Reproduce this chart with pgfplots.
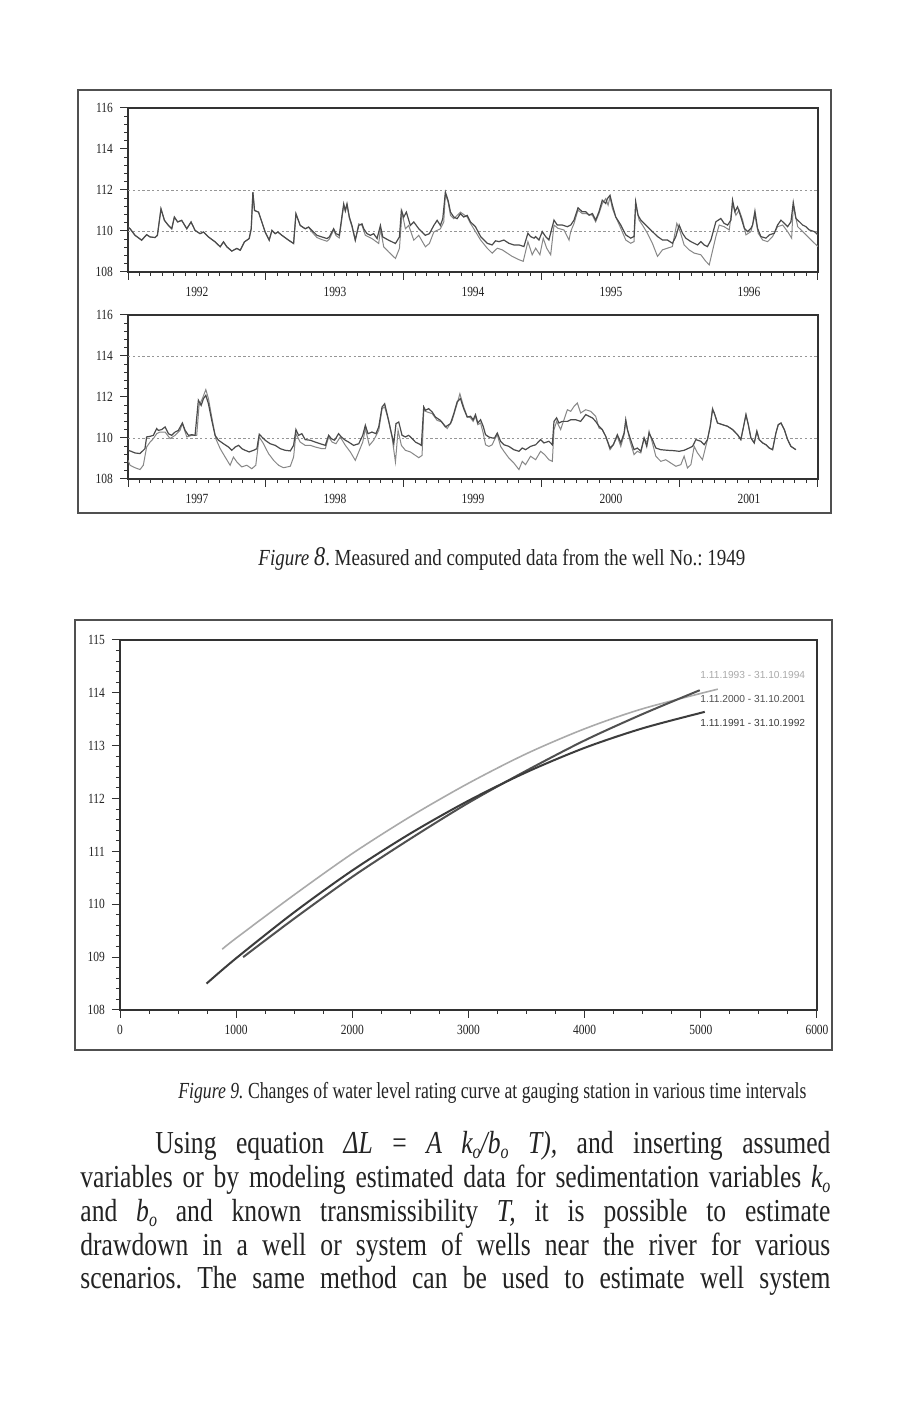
\documentclass[border=0pt]{standalone}
\usepackage{pgfplots}
\pgfplotsset{compat=1.18}
\usepackage{graphicx}
\usepackage{fontspec}
\setmainfont{Liberation Serif}
\newfontfamily\tickfont[FakeStretch=0.82]{Liberation Serif}
\newfontfamily\parafont[FakeStretch=0.80]{Liberation Serif}
\newfontfamily\legfont{Liberation Sans}
\frenchspacing

\definecolor{ink}{RGB}{50,50,50}
\definecolor{txt}{RGB}{35,35,35}
\definecolor{meas}{RGB}{75,75,75}
\definecolor{comp}{RGB}{135,135,135}
\definecolor{framegray}{RGB}{80,80,80}
\definecolor{gridgray}{RGB}{150,150,150}
\definecolor{c93}{RGB}{170,170,170}
\definecolor{c00}{RGB}{80,80,80}
\definecolor{c91}{RGB}{60,60,60}

\newcommand\sub[1]{\raisebox{-0.35ex}{\fontsize{10}{10}\selectfont\itshape #1}}

\pgfplotsset{
  scan axis/.style={
    scale only axis,
    tick align=outside, tick pos=left,
    axis line style={ink, line width=0.6pt},
    tick style={ink, line width=0.5pt},
    major tick length=4pt, minor tick length=2pt,
    tick label style={font=\tickfont\fontsize{7}{8}\selectfont, text=txt},
    /pgf/number format/assume math mode=true,
    /pgf/number format/set thousands separator={},
  },
  well panel/.style={
    scan axis,
    width=345pt, height=82pt,
    xmin=0, xmax=5, ymin=108, ymax=116,
    xtick={0,...,5}, x tick label as interval, minor x tick num=11,
    ytick={108,110,...,116}, minor y tick num=4,
    extra y tick style={grid=major,
      major grid style={gridgray, dash pattern=on 1.2pt off 1.2pt, line width=0.4pt}},
    extra y tick labels={},
  },
}

% well No. 1949, 1992-1996 (x in years from the first tick)
\pgfplotstableread{
t y
0 110.19
0.015 110.11
0.051 109.79
0.099 109.55
0.135 109.82
0.160 109.71
0.196 109.68
0.213 109.79
0.239 111.08
0.264 110.52
0.293 110.27
0.317 110.11
0.336 110.68
0.360 110.44
0.389 110.52
0.426 110.11
0.457 110.44
0.486 110.03
0.522 109.87
0.547 109.95
0.583 109.71
0.631 109.47
0.668 109.23
0.692 109.47
0.716 109.23
0.752 109.02
0.789 109.15
0.813 109.06
0.844 109.47
0.878 109.63
0.893 110.11
0.905 111.89
0.917 111.00
0.946 110.92
0.970 110.44
0.994 109.95
1.023 109.55
1.043 110.03
1.067 109.87
1.086 109.95
1.115 109.79
1.164 109.55
1.200 109.39
1.217 110.84
1.248 110.27
1.284 110.11
1.309 110.19
1.333 110.03
1.369 109.79
1.405 109.71
1.442 109.63
1.459 109.71
1.490 110.11
1.507 109.87
1.531 109.79
1.563 111.32
1.575 111.00
1.587 111.32
1.604 110.68
1.623 110.27
1.647 109.55
1.672 110.27
1.696 110.35
1.708 110.11
1.732 109.87
1.756 109.79
1.780 109.87
1.805 109.63
1.829 110.27
1.846 109.71
1.889 109.55
1.938 109.39
1.967 109.71
1.981 111.00
1.998 110.68
2.017 110.92
2.046 110.27
2.071 110.44
2.107 110.11
2.155 109.79
2.184 109.87
2.216 110.27
2.240 110.52
2.264 110.27
2.281 110.60
2.300 111.89
2.320 111.48
2.337 110.92
2.361 110.68
2.385 110.60
2.409 110.84
2.433 110.68
2.458 110.76
2.482 110.44
2.518 110.21
2.555 109.73
2.603 109.40
2.639 109.32
2.663 109.52
2.688 109.48
2.724 109.56
2.760 109.40
2.796 109.32
2.833 109.32
2.869 109.24
2.898 109.89
2.917 109.73
2.942 109.65
2.954 109.73
2.978 109.56
3.002 109.97
3.026 109.73
3.050 109.56
3.087 110.53
3.111 110.29
3.147 110.29
3.184 110.21
3.208 110.29
3.232 110.53
3.261 111.13
3.292 110.94
3.317 110.94
3.341 110.77
3.365 110.85
3.389 110.53
3.413 110.94
3.437 111.50
3.462 111.34
3.474 111.58
3.493 111.74
3.510 111.26
3.534 110.69
3.571 110.29
3.607 109.81
3.643 109.65
3.667 109.73
3.679 111.42
3.696 110.77
3.716 110.53
3.752 110.29
3.788 110.05
3.837 109.73
3.873 109.56
3.909 109.56
3.945 109.40
3.970 109.73
3.994 110.29
4.018 109.89
4.042 109.65
4.079 109.48
4.127 109.32
4.151 109.48
4.175 109.32
4.199 109.24
4.224 109.56
4.260 110.45
4.296 110.61
4.320 110.37
4.345 110.29
4.369 110.53
4.381 111.50
4.398 110.94
4.417 111.18
4.441 110.69
4.466 110.13
4.490 109.97
4.514 110.13
4.526 110.29
4.543 110.97
4.562 110.13
4.586 109.73
4.623 109.65
4.647 109.81
4.683 109.89
4.707 110.29
4.732 110.53
4.756 110.37
4.780 110.21
4.804 110.45
4.821 111.39
4.840 110.61
4.865 110.45
4.889 110.29
4.913 110.21
4.937 110.05
4.974 109.97
5.000 109.81
}\topmeas

\pgfplotstableread{
t y
0 110.19
0.015 110.11
0.051 109.79
0.099 109.55
0.135 109.82
0.160 109.71
0.196 109.68
0.213 109.79
0.239 111.08
0.264 110.52
0.293 110.27
0.317 110.11
0.336 110.68
0.360 110.44
0.389 110.52
0.426 110.11
0.457 110.44
0.486 110.03
0.522 109.87
0.547 109.95
0.583 109.71
0.631 109.47
0.668 109.23
0.692 109.47
0.716 109.23
0.752 109.02
0.789 109.15
0.813 109.06
0.844 109.47
0.878 109.63
0.893 110.11
0.905 111.89
0.917 111.00
0.946 110.92
0.970 110.44
0.994 109.95
1.023 109.55
1.043 110.03
1.067 109.87
1.086 109.95
1.115 109.79
1.164 109.55
1.200 109.39
1.217 110.84
1.248 110.27
1.284 110.11
1.309 110.19
1.333 109.95
1.369 109.68
1.405 109.58
1.442 109.50
1.459 109.60
1.490 110.05
1.507 109.78
1.531 109.66
1.563 111.25
1.575 110.95
1.587 111.28
1.604 110.62
1.623 110.20
1.647 109.55
1.672 110.35
1.696 110.27
1.720 109.79
1.768 109.63
1.817 109.39
1.829 110.11
1.853 109.23
1.889 108.98
1.938 108.66
1.967 109.15
1.986 110.92
2.010 110.11
2.034 110.27
2.071 109.55
2.107 109.79
2.155 109.23
2.184 109.39
2.216 109.95
2.264 110.11
2.288 110.44
2.300 111.81
2.320 111.40
2.337 110.76
2.361 110.60
2.409 110.92
2.458 110.68
2.482 110.37
2.518 109.97
2.555 109.56
2.603 109.16
2.639 108.92
2.676 109.16
2.712 109.08
2.748 108.92
2.784 108.76
2.833 108.60
2.864 108.52
2.898 109.48
2.929 108.84
2.954 109.16
2.985 108.84
3.009 109.65
3.034 109.16
3.063 108.84
3.087 110.29
3.116 110.13
3.159 110.05
3.196 109.56
3.208 109.97
3.232 110.37
3.261 111.02
3.292 110.85
3.317 110.85
3.365 110.77
3.389 110.45
3.413 110.85
3.437 111.34
3.462 111.58
3.479 111.26
3.493 111.66
3.510 111.10
3.534 110.69
3.571 110.13
3.607 109.56
3.643 109.40
3.667 109.48
3.679 111.26
3.704 110.53
3.728 110.29
3.764 109.89
3.800 109.40
3.837 108.76
3.873 109.08
3.909 109.16
3.945 109.24
3.977 110.37
4.001 109.97
4.030 109.32
4.066 109.08
4.103 108.92
4.151 108.84
4.187 108.52
4.212 108.35
4.229 108.84
4.260 109.73
4.284 110.29
4.320 110.21
4.357 110.05
4.381 111.34
4.405 110.77
4.429 111.02
4.454 110.53
4.478 109.81
4.514 109.97
4.543 110.77
4.567 109.89
4.599 109.56
4.635 109.48
4.671 109.73
4.707 110.21
4.744 110.29
4.780 109.97
4.809 109.65
4.821 111.26
4.853 110.21
4.889 109.97
4.925 109.73
4.962 109.48
5.000 109.24
}\topcomp

% well No. 1949, 1997-2001
\pgfplotstableread{
t y
0 109.40
0.015 109.37
0.051 109.27
0.087 109.24
0.123 109.48
0.135 110.05
0.160 110.08
0.184 110.13
0.208 110.46
0.220 110.37
0.244 110.41
0.269 110.54
0.293 110.21
0.317 110.13
0.341 110.29
0.365 110.37
0.394 110.73
0.414 110.37
0.438 110.13
0.462 110.16
0.486 110.13
0.510 111.84
0.530 111.59
0.547 111.92
0.564 112.08
0.583 111.67
0.607 110.86
0.631 110.13
0.656 109.89
0.692 109.72
0.728 109.56
0.752 109.40
0.777 109.56
0.801 109.64
0.825 109.48
0.849 109.40
0.878 109.32
0.910 109.40
0.934 109.48
0.951 110.18
0.970 110.05
0.994 109.89
1.030 109.72
1.067 109.64
1.103 109.48
1.139 109.40
1.176 109.37
1.200 109.64
1.217 110.41
1.236 110.13
1.260 110.21
1.284 109.92
1.321 109.89
1.357 109.80
1.393 109.72
1.430 109.64
1.454 110.13
1.473 109.97
1.497 109.89
1.526 110.21
1.546 110.05
1.575 109.89
1.599 109.80
1.635 109.64
1.672 109.72
1.701 110.13
1.720 110.62
1.739 110.21
1.768 110.29
1.797 110.21
1.817 110.54
1.841 111.51
1.860 111.67
1.877 111.19
1.901 110.46
1.926 109.72
1.942 110.70
1.962 110.78
1.986 110.13
2.010 110.05
2.034 110.13
2.059 109.97
2.083 109.80
2.107 109.72
2.126 109.64
2.143 111.51
2.155 111.35
2.179 111.43
2.204 111.27
2.228 111.02
2.264 110.86
2.300 110.54
2.337 110.70
2.361 111.19
2.385 111.76
2.409 111.92
2.433 111.43
2.458 111.02
2.482 111.06
2.501 110.89
2.518 111.14
2.535 110.73
2.555 110.89
2.574 110.57
2.591 110.16
2.615 110.05
2.639 110.00
2.656 110.00
2.676 110.24
2.700 109.84
2.724 109.67
2.760 109.59
2.796 109.43
2.833 109.35
2.857 109.51
2.881 109.43
2.917 109.59
2.954 109.67
2.990 109.92
3.014 109.76
3.050 109.84
3.075 109.67
3.087 110.81
3.106 110.98
3.123 110.73
3.147 110.81
3.184 110.81
3.208 110.89
3.244 110.89
3.280 110.81
3.317 111.14
3.341 111.06
3.365 110.98
3.389 110.81
3.413 110.57
3.437 110.41
3.462 110.08
3.493 109.51
3.517 109.67
3.546 110.16
3.571 109.76
3.595 110.24
3.607 110.89
3.619 110.41
3.638 110.00
3.667 109.43
3.691 109.51
3.716 109.35
3.740 110.00
3.759 109.59
3.776 110.24
3.800 109.92
3.825 109.51
3.861 109.43
3.909 109.40
3.958 109.38
3.994 109.35
4.030 109.40
4.066 109.51
4.091 109.59
4.115 109.92
4.151 109.84
4.175 109.67
4.199 109.92
4.219 110.57
4.236 111.38
4.248 111.22
4.272 110.73
4.308 110.65
4.345 110.57
4.381 110.41
4.417 110.16
4.441 109.92
4.461 110.57
4.478 111.14
4.495 110.65
4.514 110.00
4.538 109.76
4.557 110.33
4.574 109.92
4.599 109.76
4.623 109.67
4.647 109.51
4.671 109.43
4.695 110.24
4.712 110.65
4.732 110.73
4.756 110.41
4.780 109.92
4.804 109.59
4.840 109.43
}\botmeas

\pgfplotstableread{
t y
0 108.91
0.015 108.67
0.051 108.55
0.087 108.46
0.111 108.67
0.135 109.56
0.160 109.80
0.184 109.97
0.208 110.21
0.232 110.29
0.269 110.29
0.305 109.97
0.341 110.13
0.377 110.37
0.394 110.70
0.426 110.05
0.462 110.13
0.498 110.13
0.515 111.59
0.539 111.92
0.564 112.36
0.583 111.92
0.607 111.02
0.636 109.97
0.668 109.48
0.704 109.07
0.740 108.67
0.764 109.07
0.789 108.83
0.825 108.59
0.861 108.67
0.897 108.50
0.926 108.67
0.951 110.05
0.982 109.72
1.018 109.24
1.055 108.91
1.091 108.67
1.127 108.55
1.176 108.62
1.200 109.07
1.217 110.21
1.248 109.80
1.284 109.64
1.321 109.64
1.357 109.56
1.405 109.48
1.430 109.48
1.454 110.05
1.479 109.80
1.507 109.72
1.538 110.05
1.575 109.64
1.611 109.32
1.647 108.91
1.672 109.32
1.701 109.80
1.720 110.46
1.749 109.64
1.780 109.89
1.817 110.37
1.841 111.43
1.860 111.51
1.889 110.86
1.913 110.05
1.938 108.83
1.957 110.37
1.981 109.64
2.010 109.40
2.046 109.32
2.083 109.15
2.107 109.04
2.131 109.15
2.143 111.35
2.167 111.27
2.204 111.19
2.240 110.86
2.276 110.78
2.313 110.46
2.349 110.86
2.385 111.67
2.405 112.16
2.433 111.51
2.458 111.05
2.482 110.98
2.501 110.81
2.518 111.06
2.535 110.65
2.555 110.73
2.574 110.24
2.591 109.67
2.615 109.59
2.639 109.67
2.656 109.92
2.676 110.16
2.700 109.59
2.724 109.35
2.760 109.02
2.796 108.78
2.833 108.46
2.857 108.86
2.881 108.70
2.917 109.11
2.954 108.94
2.990 109.35
3.019 109.19
3.050 108.94
3.075 108.86
3.087 110.41
3.106 110.81
3.135 110.41
3.184 111.38
3.208 111.30
3.232 111.54
3.256 111.71
3.280 111.22
3.317 111.38
3.353 111.30
3.389 111.06
3.413 110.49
3.437 110.41
3.462 110.08
3.493 109.43
3.517 109.67
3.546 110.08
3.571 109.59
3.595 110.16
3.607 110.81
3.619 110.41
3.638 109.84
3.667 109.19
3.691 109.35
3.716 109.27
3.740 110.00
3.764 109.76
3.776 110.33
3.800 109.76
3.825 109.11
3.861 108.86
3.897 108.94
3.933 108.78
3.970 108.62
4.006 108.70
4.030 109.11
4.054 108.54
4.079 108.70
4.103 109.59
4.127 109.27
4.163 108.94
4.199 109.92
4.219 110.57
4.236 111.46
4.248 111.22
4.272 110.73
4.308 110.65
4.345 110.57
4.381 110.41
4.417 110.16
4.441 109.92
4.461 110.57
4.478 111.14
4.495 110.65
4.514 110.00
4.538 109.76
4.557 110.33
4.574 109.92
4.599 109.76
4.623 109.67
4.647 109.51
4.671 109.43
4.695 110.24
4.712 110.65
4.732 110.73
4.756 110.41
4.780 109.92
4.804 109.59
4.840 109.43
}\botcomp

\begin{document}
\begin{tikzpicture}[x=1pt, y=1pt]
\useasboundingbox (0pt,0pt) rectangle (450pt,701.5pt);
\fill[white] (0pt,0pt) rectangle (450pt,701.5pt);

% ---- Figure 8 ----
\draw[framegray, line width=0.9pt] (39pt,445pt) rectangle (415.5pt,656.5pt);

\begin{axis}[well panel, at={(64pt,565.5pt)}, anchor=south west,
  xticklabels={1992,1993,1994,1995,1996}, extra y ticks={110,112}]
\addplot[comp, line width=0.5pt] table {\topcomp};
\addplot[meas, line width=0.6pt] table {\topmeas};
\end{axis}

\begin{axis}[well panel, at={(64pt,462pt)}, anchor=south west,
  xticklabels={1997,1998,1999,2000,2001}, extra y ticks={110,114}]
\addplot[comp, line width=0.5pt] table {\botcomp};
\addplot[meas, line width=0.6pt] table {\botmeas};
\end{axis}

\node[anchor=base west, inner sep=0pt, text=txt] at (129pt,418.5pt)
  {\resizebox{243.5pt}{\height}{\fontsize{11.5}{13}\selectfont\textit{Figure} {\fontsize{13.5}{13}\selectfont\textit{8}}. Measured and computed data from the well No.: 1949}};

% ---- Figure 9 ----
\draw[framegray, line width=0.9pt] (37.5pt,176.5pt) rectangle (416pt,391.5pt);

\begin{axis}[scan axis, at={(60pt,196.5pt)}, anchor=south west,
  width=348.5pt, height=185pt,
  xmin=0, xmax=6000, ymin=108, ymax=115,
  xtick={0,1000,...,6000}, minor x tick num=3,
  ytick={108,...,115}, minor y tick num=4]
\addplot[c93, line width=0.8pt, smooth] table {
x y
880 109.15
1000 109.36
1500 110.18
2000 110.96
2500 111.66
3000 112.29
3500 112.85
4000 113.32
4500 113.70
5146 114.07
};
\addplot[c00, line width=1pt, smooth] table {
x y
1060 109.00
1500 109.73
2000 110.52
2500 111.24
3000 111.92
3500 112.53
4000 113.10
4500 113.60
4991 114.05
};
\addplot[c91, line width=1pt, smooth] table {
x y
745 108.50
1000 108.98
1500 109.85
2000 110.64
2500 111.34
3000 111.96
3500 112.50
4000 112.96
4500 113.33
5034 113.64
};
\end{axis}

\node[anchor=west, inner sep=0pt, font=\legfont\fontsize{5.1}{6}\selectfont, text=c93] at (350pt,364pt) {1.11.1993 - 31.10.1994};
\node[anchor=west, inner sep=0pt, font=\legfont\fontsize{5.1}{6}\selectfont, text=c00] at (350pt,352pt) {1.11.2000 - 31.10.2001};
\node[anchor=west, inner sep=0pt, font=\legfont\fontsize{5.1}{6}\selectfont, text=c91] at (350pt,340pt) {1.11.1991 - 31.10.1992};

\node[anchor=base west, inner sep=0pt, text=txt] at (89pt,152pt)
  {\resizebox{314pt}{\height}{\fontsize{11.5}{13}\selectfont\textit{Figure 9.} Changes of water level rating curve at gauging station in various time intervals}};

% ---- running text ----
\node[anchor=north west, inner sep=0pt, text width=375pt, align=justify,
  font=\parafont\fontsize{16}{16.9}\selectfont, text=txt] at (40pt,136pt)
  {\frenchspacing\hspace*{37.5pt}Using equation \textit{ΔL} = \textit{A k\sub{o}/b\sub{o} T),} and inserting assumed\linebreak
  variables or by modeling estimated data for sedimentation variables \textit{k\sub{o}}\linebreak
  and \textit{b\sub{o}} and known transmissibility \textit{T,} it is possible to estimate\linebreak
  drawdown in a well or system of wells near the river for various\linebreak
  scenarios. The same method can be used to estimate well system{\parfillskip=0pt\par}};
\end{tikzpicture}
\end{document}
